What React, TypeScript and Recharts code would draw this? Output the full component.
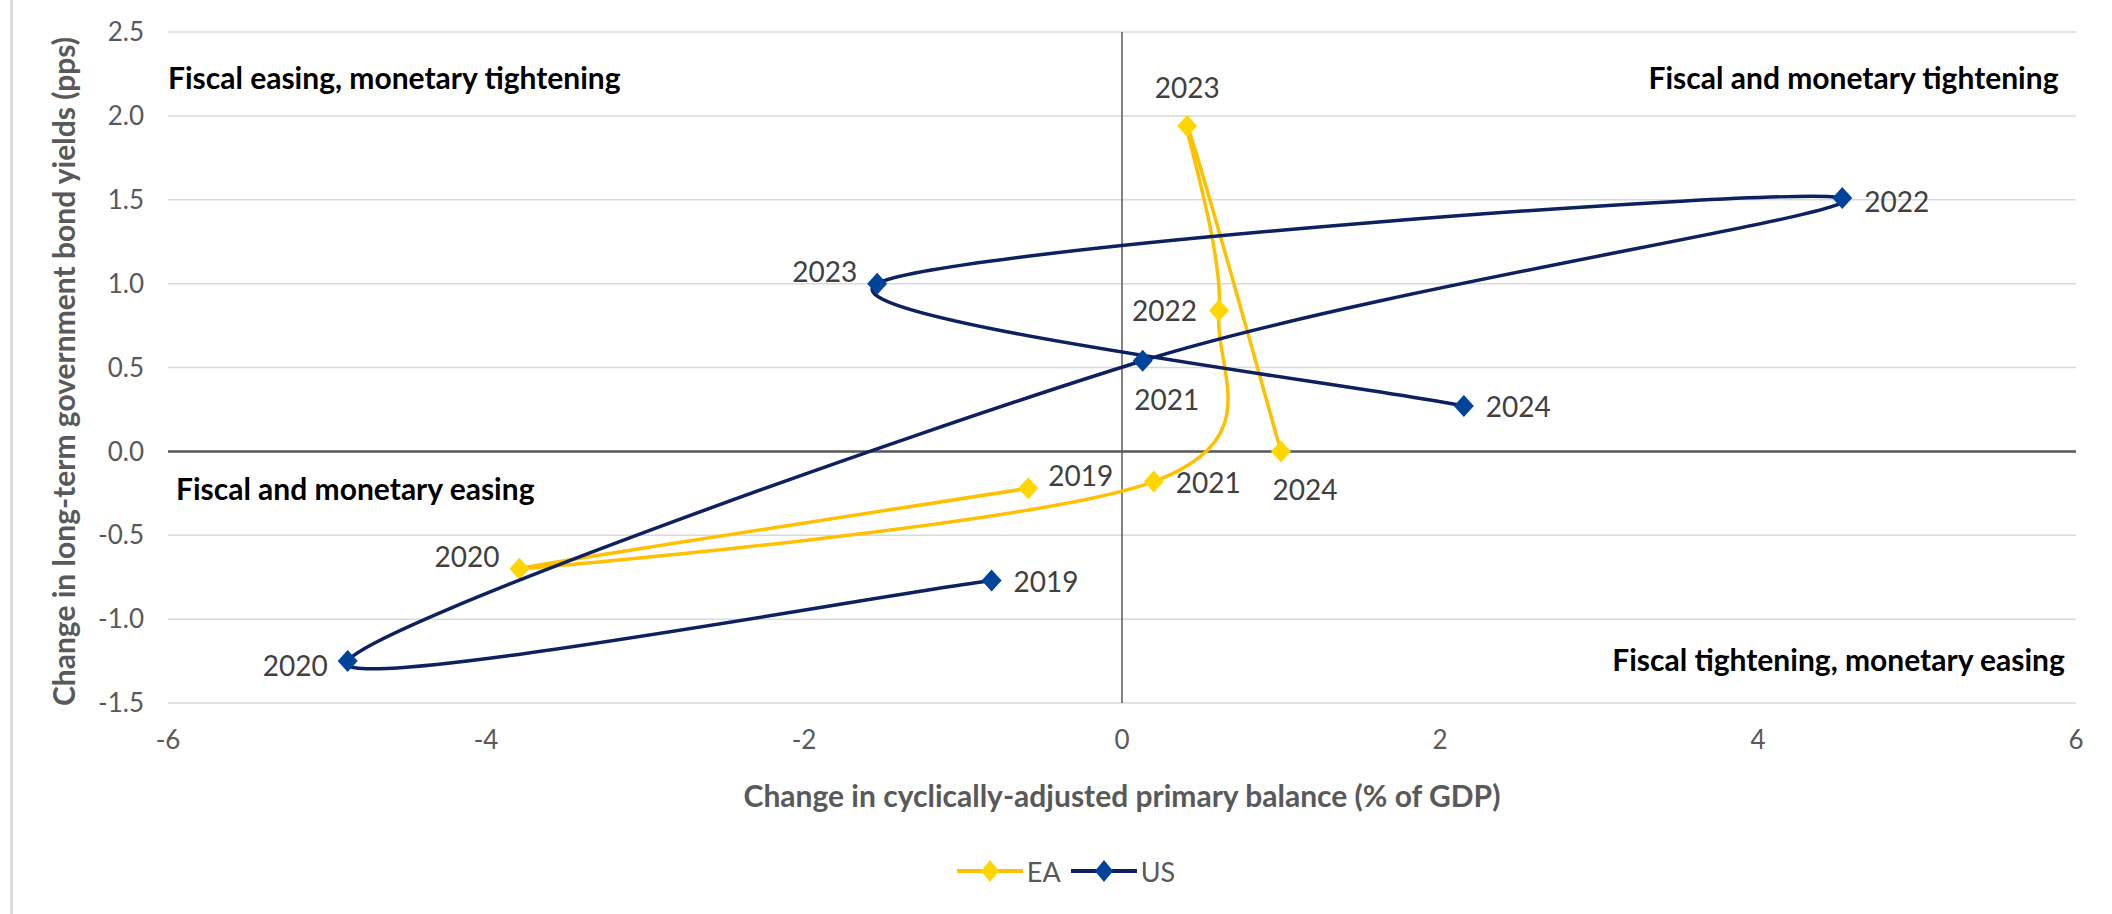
import React from 'react';
import {
  ScatterChart,
  Scatter,
  XAxis,
  YAxis,
  CartesianGrid,
  ReferenceLine,
  ReferenceDot,
  Legend,
  Label,
} from 'recharts';

// ---------- data ----------
const years = ['2019', '2020', '2021', '2022', '2023', '2024'];
const eaBalance = [-0.59, -3.79, 0.2, 0.61, 0.41, 1.0];
const eaYield = [-0.22, -0.7, -0.18, 0.84, 1.94, 0.0];
const usBalance = [-0.82, -4.87, 0.13, 4.53, -1.54, 2.15];
const usYield = [-0.77, -1.25, 0.54, 1.51, 1.0, 0.27];

const xTicks = [-6, -4, -2, 0, 2, 4, 6];
const yTicks = [-1.5, -1.0, -0.5, 0, 0.5, 1.0, 1.5, 2.0, 2.5];

const quadrantText = [
  'Fiscal easing, monetary tightening',
  'Fiscal and monetary tightening',
  'Fiscal and monetary easing',
  'Fiscal tightening, monetary easing',
];
const quadrantX = [-6, 5.89, -5.95, 5.93];
const quadrantY = [2.23, 2.23, -0.22, -1.24];
const quadrantAnchor = ['start', 'end', 'start', 'end'];

// label placement per point (style, not data)
const eaLabelPos = ['rightUp', 'leftUp', 'right', 'left', 'top', 'bottomRight'];
const usLabelPos = ['right', 'leftDown', 'bottomRight', 'rightDown', 'leftUp', 'right'];

const eaData = years.map((year, i) => ({ x: eaBalance[i], y: eaYield[i], year }));
const usData = years.map((year, i) => ({ x: usBalance[i], y: usYield[i], year }));

// ---------- styles ----------
const FONT = 'Lato, "Open Sans", sans-serif';
const EA_LINE = '#FFC000';
const EA_MARK = '#FFD600';
const US_LINE = '#0C215E';
const US_MARK = '#00449A';
const GREY = '#595959';

const placements: Record<string, { dx: number; dy: number; anchor: string }> = {
  right: { dx: 22, dy: 0, anchor: 'start' },
  rightDown: { dx: 22, dy: 3, anchor: 'start' },
  rightUp: { dx: 20, dy: -13, anchor: 'start' },
  left: { dx: -22, dy: 0, anchor: 'end' },
  leftUp: { dx: -20, dy: -13, anchor: 'end' },
  leftDown: { dx: -20, dy: 4, anchor: 'end' },
  top: { dx: 0, dy: -39, anchor: 'middle' },
  bottomRight: { dx: 24, dy: 38, anchor: 'middle' },
};

// Excel-like smoothed line (Catmull-Rom style bezier)
function excelSmooth(context: any) {
  let pts: number[][] = [];
  return {
    areaStart() {},
    areaEnd() {},
    lineStart() {
      pts = [];
    },
    point(x: number, y: number) {
      pts.push([+x, +y]);
    },
    lineEnd() {
      const n = pts.length;
      if (!n) return;
      context.moveTo(pts[0][0], pts[0][1]);
      for (let i = 0; i < n - 1; i++) {
        const p0 = pts[i - 1] || pts[i];
        const p1 = pts[i];
        const p2 = pts[i + 1];
        const p3 = pts[i + 2] || pts[i + 1];
        const c1x = p1[0] + (p2[0] - p0[0]) / 6;
        const c1y = p1[1] + (p2[1] - p0[1]) / 6;
        const c2x = p2[0] - (p3[0] - p1[0]) / 6;
        const c2y = p2[1] - (p3[1] - p1[1]) / 6;
        context.bezierCurveTo(c1x, c1y, c2x, c2y, p2[0], p2[1]);
      }
    },
  };
}

const makeShape = (color: string, pos: string[]) => (props: any) => {
  const { cx, cy, payload } = props;
  const idx = years.indexOf(payload.year);
  const p = placements[pos[idx]] || placements.right;
  return (
    <g>
      <polygon
        points={`${cx},${cy - 11} ${cx + 10},${cy} ${cx},${cy + 11} ${cx - 10},${cy}`}
        fill={color}
      />
      <text
        x={cx + p.dx}
        y={cy + p.dy}
        textAnchor={p.anchor as any}
        dominantBaseline="central"
        fontFamily={FONT}
        fontSize={28}
        fill="#404040"
      >
        {payload.year}
      </text>
    </g>
  );
};

const LegendIcon = ({ line, mark }: { line: string; mark: string }) => (
  <svg width={66} height={24} style={{ display: 'block' }}>
    <line x1={0} y1={12} x2={66} y2={12} stroke={line} strokeWidth={4} />
    <polygon points="33,1 42,12 33,23 24,12" fill={mark} />
  </svg>
);

const renderLegend = () => (
  <div
    style={{
      display: 'flex',
      justifyContent: 'center',
      alignItems: 'center',
      height: 40,
      paddingLeft: 20,
      fontFamily: FONT,
      fontSize: 27,
      color: GREY,
    }}
  >
    <LegendIcon line={EA_LINE} mark={EA_MARK} />
    <span style={{ marginLeft: 4, marginRight: 10 }}>EA</span>
    <LegendIcon line={US_LINE} mark={US_MARK} />
    <span style={{ marginLeft: 4 }}>US</span>
  </div>
);

const quadrantShape = (i: number) => (props: any) => (
  <text
    x={props.cx}
    y={props.cy}
    textAnchor={quadrantAnchor[i] as any}
    dominantBaseline="central"
    fontFamily={FONT}
    fontWeight={700}
    fontSize={30}
    fill="#000"
  >
    {quadrantText[i]}
  </text>
);

export default function App() {
  return (
    <div
      style={{
        position: 'absolute',
        left: 0,
        top: 0,
        width: 2112,
        height: 914,
        background: '#fff',
        overflow: 'hidden',
      }}
    >
      <div
        style={{
          position: 'absolute',
          left: 10,
          top: 0,
          width: 3,
          height: 914,
          background: '#dcdcdc',
        }}
      />
      <ScatterChart
        width={2112}
        height={914}
        margin={{ top: 32, right: 36, left: 28, bottom: 61 }}
      >
        <CartesianGrid vertical={false} stroke="#D9D9D9" strokeWidth={1.5} />
        <XAxis
          type="number"
          dataKey="x"
          domain={[-6, 6]}
          ticks={xTicks}
          interval={0}
          axisLine={false}
          tickLine={false}
          tickSize={0}
          tickMargin={28}
          height={110}
          tick={{ fontFamily: FONT, fontSize: 26, fill: GREY }}
        >
          <Label
            content={({ viewBox }: any) => (
              <text
                x={viewBox.x + viewBox.width / 2}
                y={795}
                textAnchor="middle"
                dominantBaseline="central"
                fontFamily={FONT}
                fontWeight={700}
                fontSize={30}
                fill={GREY}
              >
                Change in cyclically-adjusted primary balance (% of GDP)
              </text>
            )}
          />
        </XAxis>
        <YAxis
          type="number"
          dataKey="y"
          domain={[-1.5, 2.5]}
          ticks={yTicks}
          interval={0}
          axisLine={false}
          tickLine={false}
          tickSize={0}
          tickMargin={24}
          width={140}
          tickFormatter={(v: number) => v.toFixed(1)}
          tick={{ fontFamily: FONT, fontSize: 26, fill: GREY }}
        >
          <Label
            content={({ viewBox }: any) => {
              const cx = 63;
              const cy = viewBox.y + viewBox.height / 2 + 4;
              return (
                <text
                  x={cx}
                  y={cy}
                  transform={`rotate(-90 ${cx} ${cy})`}
                  textAnchor="middle"
                  dominantBaseline="central"
                  fontFamily={FONT}
                  fontWeight={700}
                  fontSize={30}
                  fill={GREY}
                >
                  Change in long-term government bond yields (pps)
                </text>
              );
            }}
          />
        </YAxis>
        <ReferenceLine y={0} stroke={GREY} strokeWidth={2.5} />
        <ReferenceLine x={0} stroke={GREY} strokeWidth={1.5} />
        {quadrantText.map((t, i) => (
          <ReferenceDot
            key={t}
            x={quadrantX[i]}
            y={quadrantY[i]}
            r={0}
            ifOverflow="visible"
            shape={quadrantShape(i)}
          />
        ))}
        <Legend
          verticalAlign="bottom"
          height={40}
          content={renderLegend}
          wrapperStyle={{ bottom: 23, left: 0, width: 2112 }}
        />
        <Scatter
          name="EA"
          data={eaData}
          fill={EA_MARK}
          line={{ stroke: EA_LINE, strokeWidth: 3.5 }}
          lineJointType={excelSmooth as any}
          shape={makeShape(EA_MARK, eaLabelPos)}
          isAnimationActive={false}
        />
        <Scatter
          name="US"
          data={usData}
          fill={US_MARK}
          line={{ stroke: US_LINE, strokeWidth: 3.5 }}
          lineJointType={excelSmooth as any}
          shape={makeShape(US_MARK, usLabelPos)}
          isAnimationActive={false}
        />
      </ScatterChart>
    </div>
  );
}
